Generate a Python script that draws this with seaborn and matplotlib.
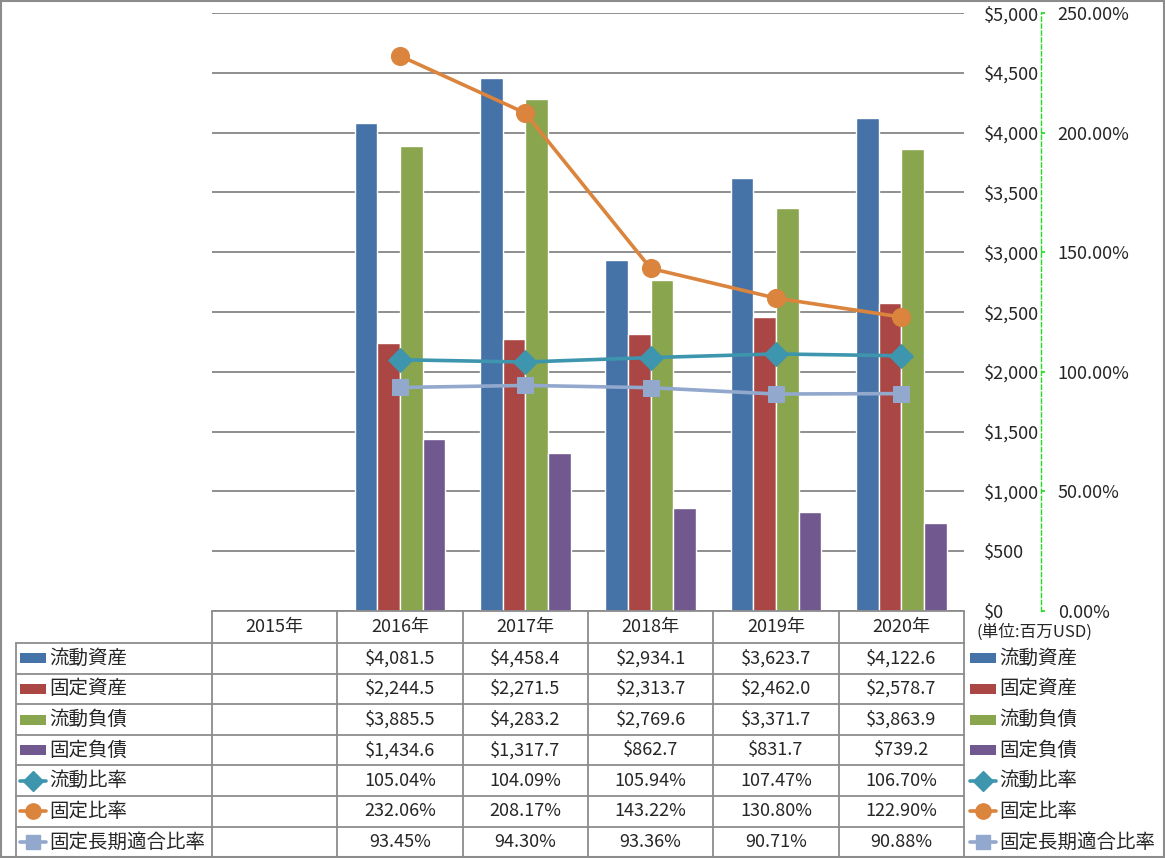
import numpy as np
import pandas as pd
import matplotlib
matplotlib.use("Agg")
import matplotlib.pyplot as plt
from matplotlib.lines import Line2D
from matplotlib.patches import Rectangle
from matplotlib.ticker import FuncFormatter, MultipleLocator
import seaborn as sns

years = ["2015年", "2016年", "2017年", "2018年", "2019年", "2020年"]

bar_names = ["流動資産", "固定資産", "流動負債", "固定負債"]
current_assets = [np.nan, 4081.5, 4458.4, 2934.1, 3623.7, 4122.6]
fixed_assets = [np.nan, 2244.5, 2271.5, 2313.7, 2462.0, 2578.7]
current_liab = [np.nan, 3885.5, 4283.2, 2769.6, 3371.7, 3863.9]
fixed_liab = [np.nan, 1434.6, 1317.7, 862.7, 831.7, 739.2]

line_names = ["流動比率", "固定比率", "固定長期適合比率"]
current_ratio = [np.nan, 105.04, 104.09, 105.94, 107.47, 106.70]
fixed_ratio = [np.nan, 232.06, 208.17, 143.22, 130.80, 122.90]
long_term_ratio = [np.nan, 93.45, 94.30, 93.36, 90.71, 90.88]

bar_colors = ["#4572A7", "#AA4643", "#89A54E", "#71588F"]
line_colors = ["#3D96AE", "#DB843D", "#92A8CD"]
line_markers = ["D", "o", "s"]
marker_sizes = [12, 13, 12]

W, H = 1165, 858

sns.set_theme(style="white")
plt.rcParams["font.family"] = ["Noto Sans CJK JP", "DejaVu Sans"]

bars = pd.DataFrame({"year": years, bar_names[0]: current_assets,
                     bar_names[1]: fixed_assets, bar_names[2]: current_liab,
                     bar_names[3]: fixed_liab})
bars_long = bars.melt(id_vars="year", var_name="series", value_name="value").dropna()

ratios = [current_ratio, fixed_ratio, long_term_ratio]

fig = plt.figure(figsize=(W / 100, H / 100), dpi=100)
fig.patch.set_facecolor("white")

# plot area in pixel terms
px_l, px_r, px_t, px_b = 212, 964, 13, 611
ax = fig.add_axes([px_l / W, (H - px_b) / H, (px_r - px_l) / W, (px_b - px_t) / H])

sns.barplot(data=bars_long, x="year", y="value", hue="series", order=years,
            hue_order=bar_names, palette=bar_colors, saturation=1, width=0.725,
            errorbar=None, legend=False, ax=ax)
ax.set_xlim(-0.5, len(years) - 0.5)
ax.set_ylim(0, 5000)
ax.set_yticks(np.arange(0, 5001, 500))
ax.yaxis.set_major_formatter(FuncFormatter(lambda v, p: "$0" if v == 0 else f"${v:,.0f}"))
ax.yaxis.grid(True, color="#868686", lw=1.3)
ax.set_axisbelow(True)
ax.set_xlabel("")
ax.set_ylabel("")
ax.tick_params(axis="x", bottom=False, labelbottom=False)
for s in ax.spines.values():
    s.set_visible(False)

ax2 = ax.twinx()
xpos = np.arange(len(years))
for name, vals, c, m, ms in zip(line_names, ratios, line_colors, line_markers, marker_sizes):
    sns.lineplot(x=xpos, y=vals, ax=ax2, color=c, marker=m, markersize=ms,
                 markeredgecolor=c, lw=2.6)
ax2.set_ylim(0, 250)
ax2.yaxis.set_major_locator(MultipleLocator(50))
ax2.yaxis.set_major_formatter(FuncFormatter(lambda v, p: f"{v:.2f}%"))
ax2.set_ylabel("")
for k in ["left", "top", "bottom"]:
    ax2.spines[k].set_visible(False)
ax2.spines["right"].set_position(("axes", (1041 - px_l) / (px_r - px_l)))
ax2.spines["right"].set_color("#22DD22")
ax2.spines["right"].set_linestyle((0, (3, 2)))
ax2.spines["right"].set_linewidth(1)
ax2.tick_params(axis="y", direction="out", length=3, color="#22DD22", pad=9,
                labelsize=13)

# primary labels sit right of the plot (twinx resets them to the left)
ax.tick_params(axis="y", left=False, right=False, labelleft=False, labelright=True,
               pad=8, labelsize=13)

# data table under the chart
tab = fig.add_axes([0, 0, 1, 1])
tab.set_xlim(0, W)
tab.set_ylim(H, 0)
tab.axis("off")

grid_c = "#8c8c8c"
col_x = np.linspace(px_l, px_r, len(years) + 1)
row_y = 643 + 30.6 * np.arange(8)

tab.plot([px_l, px_r], [px_b, px_b], color=grid_c, lw=1.3)
for y in row_y:
    tab.plot([16, px_r], [y, y], color=grid_c, lw=1.3)
for x in col_x:
    tab.plot([x, x], [px_b, row_y[-1]], color=grid_c, lw=1.3)
tab.plot([16, 16], [row_y[0], row_y[-1]], color=grid_c, lw=1.3)

cx = (col_x[:-1] + col_x[1:]) / 2
for x, yr in zip(cx, years):
    tab.text(x, (px_b + row_y[0]) / 2, yr, ha="center", va="center", fontsize=13)

cells = [[("" if np.isnan(v) else f"${v:,.1f}") for v in s]
         for s in [current_assets, fixed_assets, current_liab, fixed_liab]]
cells += [[("" if np.isnan(v) else f"{v:.2f}%") for v in s] for s in ratios]
row_names = bar_names + line_names


def legend_glyph(x0, y, i):
    if i < 4:
        tab.add_patch(Rectangle((x0, y - 5), 26, 10, color=bar_colors[i], lw=0))
    else:
        j = i - 4
        tab.add_line(Line2D([x0, x0 + 26], [y, y], color=line_colors[j], lw=2.6))
        tab.add_line(Line2D([x0 + 13], [y], color=line_colors[j], marker=line_markers[j],
                            markersize=marker_sizes[j] - 2, markeredgecolor=line_colors[j]))


for i, (name, row) in enumerate(zip(row_names, cells)):
    yc = (row_y[i] + row_y[i + 1]) / 2
    legend_glyph(20, yc, i)
    tab.text(49, yc, name, ha="left", va="center", fontsize=14)
    for x, s in zip(cx, row):
        tab.text(x, yc, s, ha="center", va="center", fontsize=13)
    legend_glyph(970, yc, i)
    tab.text(999, yc, name, ha="left", va="center", fontsize=14)

tab.text(977, 632, "(単位:百万USD)", ha="left", va="center", fontsize=12)
tab.add_patch(Rectangle((1, 1), W - 2, H - 2, fill=False, edgecolor="#8c8c8c", lw=1.5))

fig.savefig("out.png", dpi=100)
